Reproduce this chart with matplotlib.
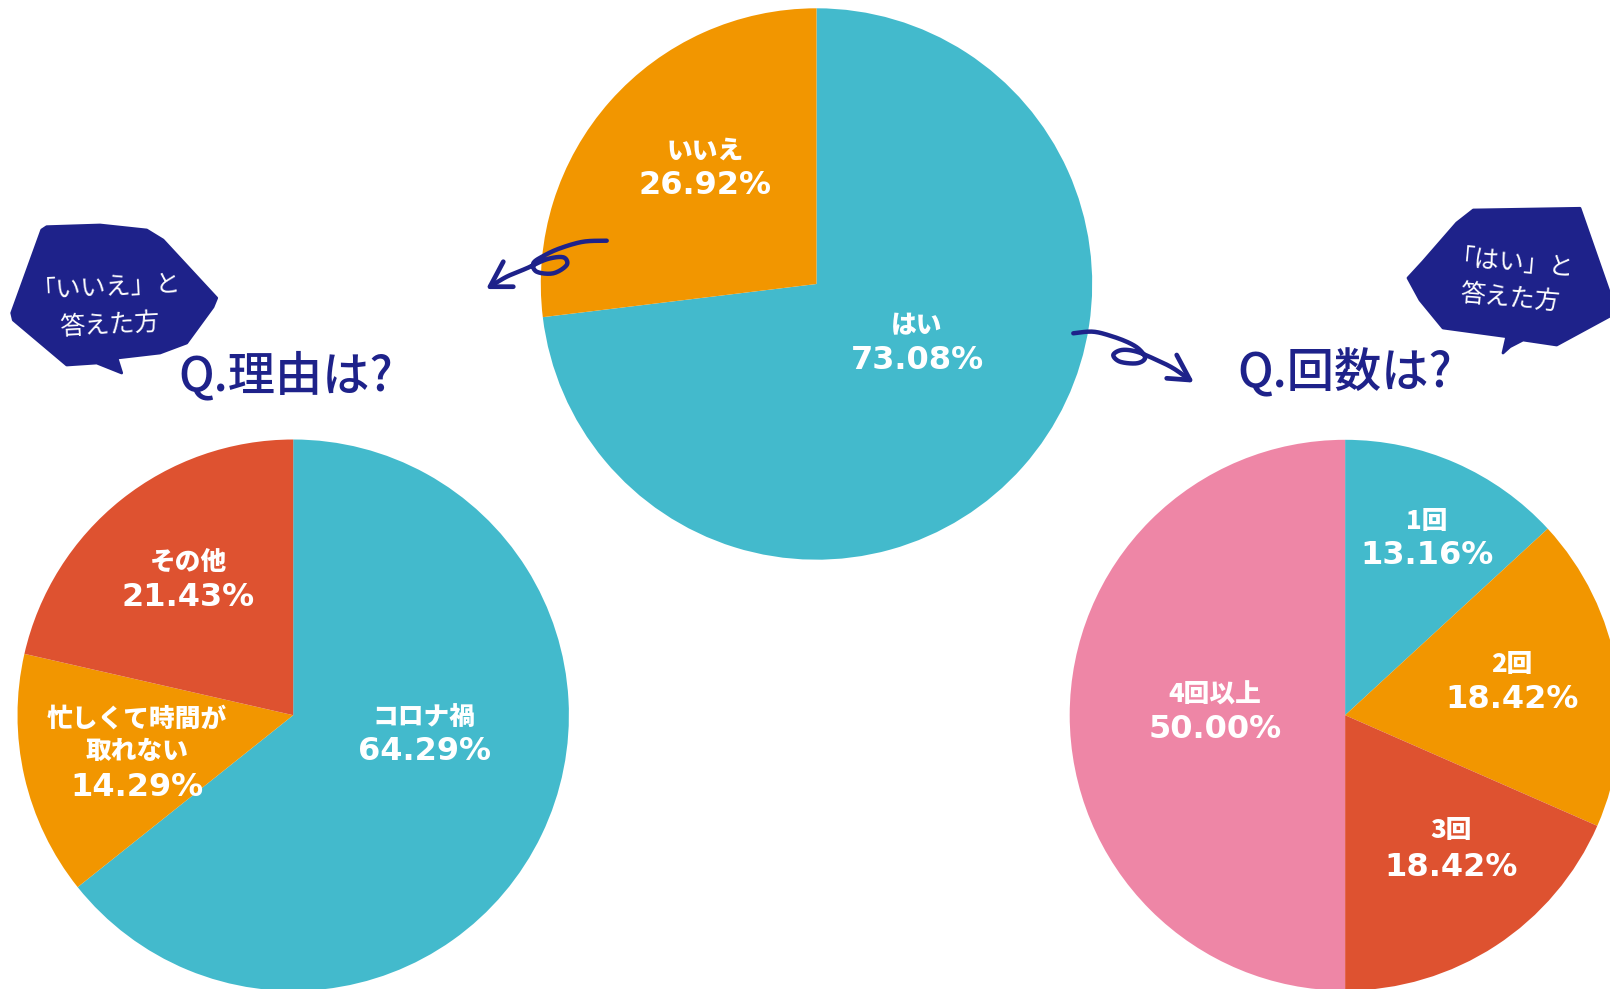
import numpy as np
import matplotlib
matplotlib.use("Agg")
import matplotlib.pyplot as plt
from matplotlib.patches import Polygon

# ---- data ----
main_labels = ["はい", "いいえ"]
main_values = [73.08, 26.92]
reason_labels = ["コロナ禍", "忙しくて時間が\n取れない", "その他"]
reason_values = [64.29, 14.29, 21.43]
count_labels = ["1回", "2回", "3回", "4回以上"]
count_values = [13.16, 18.42, 18.42, 50.00]

TEAL = "#43BACC"
ORANGE = "#F29600"
RED = "#DE5230"
PINK = "#EE86A6"
NAVY = "#1E228A"

W, H = 1610, 989
fig = plt.figure(figsize=(W / 100, H / 100), dpi=100)
ax = fig.add_axes([0, 0, 1, 1])

JP = ["Noto Sans CJK JP", "DejaVu Sans"]


def Y(y):
    return H - y


def draw_pie(values, colors, cx, cy, r):
    ax.pie(values, colors=colors, startangle=90, counterclock=False,
           center=(cx, Y(cy)), radius=r, wedgeprops=dict(linewidth=0))


def label(x, y, name, value, name_dy=35):
    ax.text(x, Y(y), name, ha="center", va="center", color="white",
            fontsize=18.5, fontweight="black", family=JP, linespacing=1.3)
    ax.text(x, Y(y + name_dy), f"{value:.2f}%", ha="center", va="center",
            color="white", fontsize=23, fontweight="bold", family=["DejaVu Sans"])


draw_pie(main_values, [TEAL, ORANGE], 816.5, 284.0, 275.7)
draw_pie(reason_values, [TEAL, ORANGE, RED], 293.2, 715.2, 275.7)
draw_pie(count_values, [TEAL, ORANGE, RED, PINK], 1345.1, 715.2, 275.4)

# labels
label(917, 325.5, main_labels[0], main_values[0])
label(705, 151, main_labels[1], main_values[1])
label(424, 717, reason_labels[0], reason_values[0])
label(137, 735, reason_labels[1], reason_values[1], name_dy=52)
label(188, 562, reason_labels[2], reason_values[2])
label(1427, 521, count_labels[0], count_values[0])
label(1512, 664, count_labels[1], count_values[1])
label(1451, 830, count_labels[2], count_values[2], name_dy=37)
label(1215, 695, count_labels[3], count_values[3])

# speech bubbles
left_bubble = [(46.7, 226.7), (100, 225), (146.7, 230), (163, 240), (216.7, 298),
               (213, 307), (186.7, 343), (160, 353), (117, 358), (121.7, 373),
               (96.7, 363), (66.7, 365), (13.3, 320), (11.7, 313), (41.7, 230)]
right_bubble = [(1473.3, 210), (1580, 208.3), (1612, 300), (1612, 315),
                (1556.7, 345), (1523, 340), (1510, 346.7), (1503, 353),
                (1506.7, 336.7), (1443, 328), (1420, 300), (1408, 278),
                (1423, 261.7), (1456.7, 223)]
for pts in (left_bubble, right_bubble):
    ax.add_patch(Polygon([(x, Y(y)) for x, y in pts], closed=True,
                         facecolor=NAVY, edgecolor=NAVY, linewidth=2,
                         joinstyle="round"))

ax.text(106, Y(287), "「いいえ」と", ha="center", va="center", color="white",
        fontsize=18, family=JP, rotation=3)
ax.text(110, Y(325), "答えた方", ha="center", va="center", color="white",
        fontsize=18, family=JP, rotation=3)
ax.text(1512, Y(264), "「はい」と", ha="center", va="center", color="white",
        fontsize=18, family=JP, rotation=-5)
ax.text(1510, Y(298), "答えた方", ha="center", va="center", color="white",
        fontsize=18, family=JP, rotation=-5)

# titles
ax.text(286, Y(377), "Q.理由は?", ha="center", va="center", color=NAVY,
        fontsize=34, family=JP, fontweight="medium")
ax.text(1345, Y(374), "Q.回数は?", ha="center", va="center", color=NAVY,
        fontsize=34, family=JP, fontweight="medium")


# hand-drawn arrows
def smooth(points, n=12):
    p = np.array(points, dtype=float)
    p = np.vstack([p[0], p, p[-1]])
    out = []
    for i in range(1, len(p) - 2):
        p0, p1, p2, p3 = p[i - 1], p[i], p[i + 1], p[i + 2]
        for t in np.linspace(0, 1, n, endpoint=False):
            t2, t3 = t * t, t * t * t
            out.append(0.5 * ((2 * p1) + (-p0 + p2) * t +
                              (2 * p0 - 5 * p1 + 4 * p2 - p3) * t2 +
                              (-p0 + 3 * p1 - 3 * p2 + p3) * t3))
    out.append(p[-2])
    return np.array(out)


left_arrow = [(606.7, 240.7), (583.3, 241.7), (560, 248.3), (543.3, 256),
              (533.3, 263.3), (536.7, 271.7), (553.3, 273.3), (566.7, 265),
              (563.3, 257.3), (546.7, 259.3), (526.7, 268.3), (506.7, 276.7),
              (490, 286.7)]
left_head = [(503.3, 261.7), (490, 286.7), (513.3, 286.7)]
right_arrow = [(1073.3, 333.3), (1093.3, 331.7), (1113.3, 336.7), (1130, 343.3),
               (1140, 350), (1145, 358.3), (1136.7, 363.3), (1120, 361.7),
               (1113.3, 355), (1121.7, 350), (1136.7, 351.7), (1156.7, 360),
               (1173.3, 368.3), (1190, 380)]
right_head = [(1176.7, 355), (1190, 380), (1166.7, 378.3)]

for body, head in ((left_arrow, left_head), (right_arrow, right_head)):
    s = smooth(body)
    ax.plot(s[:, 0], H - s[:, 1], color=NAVY, lw=3.2, solid_capstyle="round",
            solid_joinstyle="round")
    hx = [p[0] for p in head]
    hy = [Y(p[1]) for p in head]
    ax.plot(hx, hy, color=NAVY, lw=3.4, solid_capstyle="round",
            solid_joinstyle="round")

ax.set_xlim(0, W)
ax.set_ylim(0, H)
ax.set_aspect("auto")
ax.axis("off")

fig.savefig("out.png", dpi=100, facecolor="white")
